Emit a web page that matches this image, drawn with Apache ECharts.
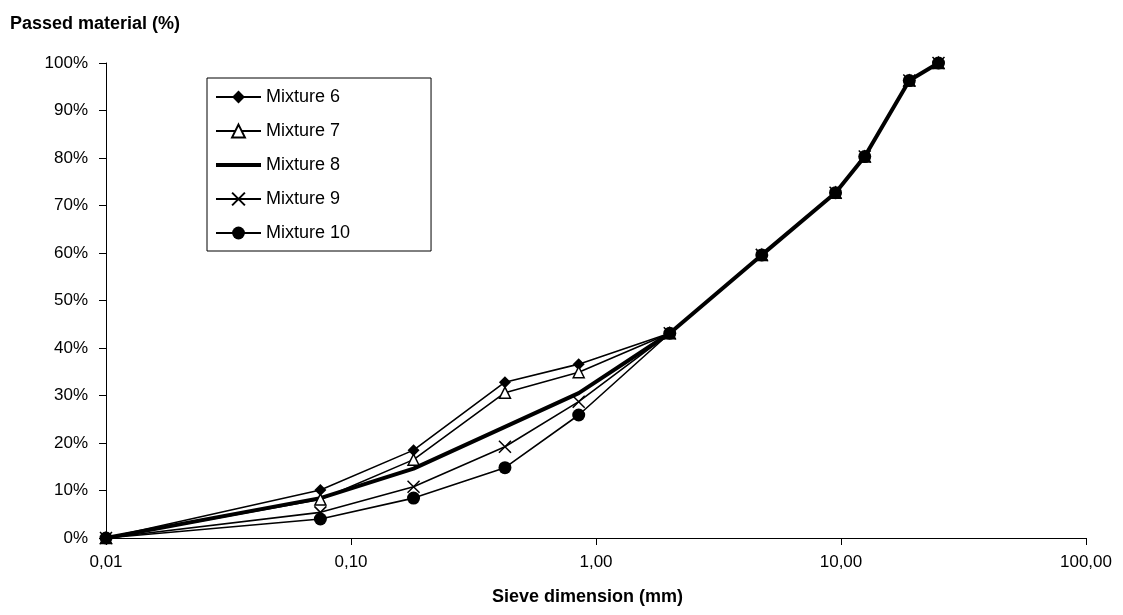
<!DOCTYPE html>
<html>
<head>
<meta charset="utf-8">
<script src="https://cdn.jsdelivr.net/npm/echarts@6/dist/echarts.min.js"></script>
<style>
  html, body { margin: 0; padding: 0; background: #fff; }
  #chart { width: 1123px; height: 615px; }
</style>
</head>
<body>
<div id="chart"></div>
<script>
// sieve sizes (mm) and passed material (%) per mixture
const sieve = [0.01, 0.075, 0.18, 0.425, 0.85, 2, 4.75, 9.5, 12.5, 19, 25];
const mixture6 = [0, 10.1, 18.5, 32.8, 36.6, 43.1, 59.6, 72.7, 80.3, 96.3, 100];
const mixture7 = [0, 8.1, 16.5, 30.6, 34.9, 43.1, 59.6, 72.7, 80.3, 96.3, 100];
const mixture8 = [0, 8.4, 14.6, 23.4, 30.5, 43.1, 59.6, 72.7, 80.3, 96.3, 100];
const mixture9 = [0, 5.4, 10.8, 19.2, 28.7, 43.1, 59.6, 72.7, 80.3, 96.3, 100];
const mixture10 = [0, 4.0, 8.4, 14.8, 25.9, 43.1, 59.6, 72.7, 80.3, 96.3, 100];
const names = ['Mixture 6', 'Mixture 7', 'Mixture 8', 'Mixture 9', 'Mixture 10'];

const font = 'Liberation Sans, Arial, sans-serif';
const pairs = arr => sieve.map((s, i) => [s, arr[i]]);

const chart = echarts.init(document.getElementById('chart'));

const thin = { color: '#000', width: 1.6 };

const option = {
  backgroundColor: '#fff',
  animation: false,
  textStyle: { fontFamily: font, color: '#000' },
  grid: { left: 106, right: 37, top: 63, bottom: 77 },
  graphic: [
    {
      type: 'text', left: 10, top: 15,
      style: { text: 'Passed material (%)', font: 'bold 18px ' + font, fill: '#000' }
    },
    {
      type: 'text', left: 492, top: 588,
      style: { text: 'Sieve dimension (mm)', font: 'bold 18px ' + font, fill: '#000' }
    }
  ],
  legend: {
    orient: 'vertical',
    left: 207, top: 78,
    padding: [10, 81, 9, 8],
    itemGap: 16,
    itemWidth: 45,
    itemHeight: 16,
    itemTextGap: 6,
    borderColor: '#000',
    borderWidth: 1,
    backgroundColor: '#fff',
    textStyle: { fontFamily: font, fontSize: 18, color: '#000' },
    data: [
      names[0],
      names[1],
      { name: names[2], icon: 'path://M0,0L45,0L45,4L0,4Z', itemStyle: { color: '#000' } },
      names[3],
      names[4]
    ]
  },
  xAxis: {
    type: 'log',
    logBase: 10,
    min: 0.01,
    max: 100,
    axisLine: { lineStyle: { color: '#000', width: 1 } },
    axisTick: { show: true, length: 7, lineStyle: { color: '#000' } },
    minorTick: { show: false },
    splitLine: { show: false },
    axisLabel: {
      margin: 16,
      fontSize: 17,
      color: '#000',
      fontFamily: font,
      formatter: v => Number(v).toFixed(2).replace('.', ',')
    }
  },
  yAxis: {
    type: 'value',
    min: 0,
    max: 100,
    interval: 10,
    axisLine: { show: true, lineStyle: { color: '#000', width: 1 } },
    axisTick: { show: true, length: 7, lineStyle: { color: '#000' } },
    splitLine: { show: false },
    axisLabel: {
      margin: 18,
      fontSize: 17,
      color: '#000',
      fontFamily: font,
      formatter: v => v + '%'
    }
  },
  series: [
    {
      name: names[0], type: 'line', data: pairs(mixture6),
      symbol: 'diamond', symbolSize: 12,
      lineStyle: thin,
      itemStyle: { color: '#000' }
    },
    {
      name: names[1], type: 'line', data: pairs(mixture7),
      symbol: 'triangle', symbolSize: 11,
      lineStyle: thin,
      itemStyle: { color: '#fff', borderColor: '#000', borderWidth: 1.5 }
    },
    {
      name: names[2], type: 'line', data: pairs(mixture8),
      symbol: 'none',
      lineStyle: { color: '#000', width: 4 },
      itemStyle: { color: '#000' }
    },
    {
      name: names[3], type: 'line', data: pairs(mixture9),
      symbol: 'path://M0,0L10,10M10,0L0,10', symbolSize: 12,
      lineStyle: thin,
      itemStyle: { color: 'none', borderColor: '#000', borderWidth: 1.5 }
    },
    {
      name: names[4], type: 'line', data: pairs(mixture10),
      symbol: 'circle', symbolSize: 13,
      lineStyle: thin,
      itemStyle: { color: '#000' }
    }
  ]
};

chart.setOption(option);
</script>
</body>
</html>
